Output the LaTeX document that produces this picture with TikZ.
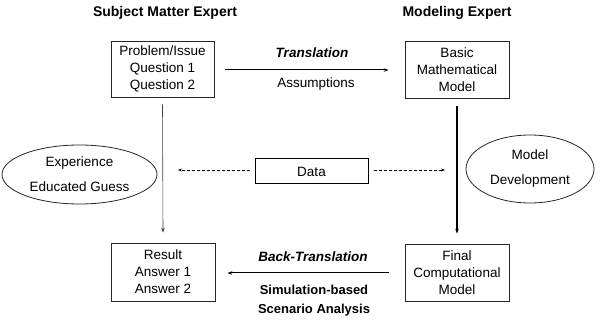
\documentclass[tikz,border=0pt]{standalone}
\usepackage{fontspec}
\setmainfont{Liberation Sans}
\usetikzlibrary{shapes.geometric,arrows.meta}
\begin{document}
\begin{tikzpicture}[x=1pt,y=-1pt,
  txt/.style={font=\fontsize{13.5}{17}\selectfont, align=center, inner sep=0pt},
  boxnode/.style={draw=black!85, line width=0.8pt, txt, minimum width=104pt, minimum height=57pt},
  ovalnode/.style={draw=black!85, line width=0.8pt, ellipse, font=\fontsize{13.5}{25}\selectfont, align=center, inner sep=0pt},
  title/.style={font=\fontsize{14}{17}\selectfont\bfseries, inner sep=0pt},
  label/.style={font=\fontsize{13.5}{17}\selectfont, inner sep=0pt},
  tip/.style={-{Stealth[length=5pt,width=3.5pt]}},
  dtip/.style={-{Stealth[length=4pt,width=3pt]}, dashed, dash pattern=on 3pt off 2pt, line width=0.7pt}
]
\useasboundingbox (0,0) rectangle (603,331);
\node[title] (sme) at (165,13) {Subject Matter Expert};
\node[title] (me) at (457,13) {Modeling Expert};
\node[boxnode, minimum width=103pt, minimum height=56pt] (prob) at (162.5,69) {Problem/Issue\\Question 1\\Question 2};
\node[boxnode] (basic) at (457,69.5) {Basic\\Mathematical\\Model};
\node[boxnode, minimum height=58pt] (res) at (163,272) {Result\\Answer 1\\Answer 2};
\node[boxnode] (fin) at (457,272.5) {Final\\Computational\\Model};
\node[ovalnode, minimum width=155pt, minimum height=59pt] (exp) at (79.5,174.5) {Experience\\Educated Guess};
\node[ovalnode, minimum width=128pt, minimum height=68pt] (dev) at (530,169) {Model\\Development};
\node[draw=black, line width=1pt, txt, minimum width=113pt, minimum height=25pt] (data) at (311.5,171.5) {Data};
\coordinate (dl) at (178,170);
\coordinate (dr) at (445,170);
\draw[tip, line width=0.6pt, black!75] ([yshift=-7pt]prob.south) -- ([yshift=10pt]res.north);
\draw[tip, line width=1.3pt] ([yshift=-8pt]basic.south) -- ([yshift=10pt]fin.north);
\draw[tip, line width=1pt] ([xshift=11pt]prob.east |- 0,70) -- ([xshift=-16pt]basic.west |- 0,70);
\draw[tip, line width=1pt] ([xshift=-16pt]fin.west |- 0,273) -- ([xshift=12pt]res.east |- 0,273);
\draw[dtip] ([xshift=-5pt]data.west |- dl) -- (dl);
\draw[dtip] ([xshift=5pt]data.east |- dr) -- (dr);
\node[label, font=\fontsize{13.5}{17}\selectfont\bfseries\itshape] (tr) at (312,53) {Translation};
\node[label] (as) at (316,84) {Assumptions};
\node[label, font=\fontsize{13.5}{17}\selectfont\bfseries\itshape] (btr) at (313,257) {Back-Translation};
\node[label, font=\fontsize{13}{19}\selectfont\bfseries, align=center] (sim) at (314,301) {Simulation-based\\Scenario Analysis};
\end{tikzpicture}
\end{document}
